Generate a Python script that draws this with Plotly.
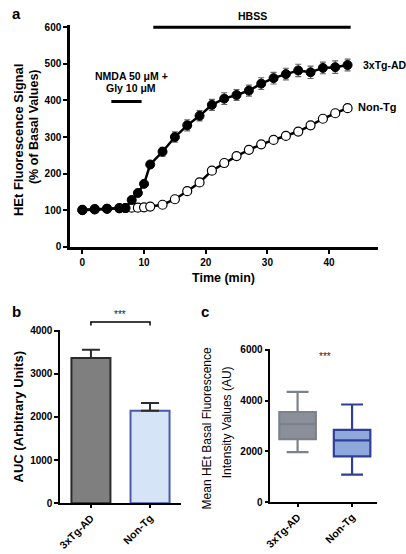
import plotly.graph_objects as go

# ---------------- data ----------------
time_min = [0, 2, 4, 6, 7, 8, 9, 10, 11, 13, 15, 17, 19, 21, 23, 25, 27, 29, 31, 33, 35, 37, 39, 41, 43]
tg_signal = [100, 102, 104, 105, 106, 128, 147, 172, 225, 260, 300, 332, 358, 388, 405, 415, 427, 446, 461, 472, 482, 477, 489, 491, 497]
tg_err = [2, 2, 2, 2, 2, 3, 4, 5, 6, 12, 14, 15, 14, 15, 16, 15, 15, 16, 16, 16, 17, 17, 16, 17, 16]
ntg_signal = [101, 103, 104, 106, 106, 107, 107, 108, 110, 115, 130, 152, 176, 208, 229, 248, 265, 280, 292, 303, 315, 332, 350, 365, 379]
ntg_err = [2, 2, 2, 2, 2, 2, 2, 2, 2, 3, 4, 5, 5, 5, 6, 6, 6, 6, 7, 7, 7, 8, 8, 8, 9]
hbss_period = [11.5, 43.5]
hbss_level = 600
nmda_period = [4.7, 9.6]
nmda_level = 397

groups = ["3xTg-AD", "Non-Tg"]
auc_mean = [3370, 2143]
auc_err = [190, 180]

box_q1 = [2485, 1808]
box_median = [3077, 2435]
box_q3 = [3550, 2846]
box_low = [1973, 1088]
box_high = [4346, 3846]

W, H = 406, 554
FONT = "Liberation Sans, Arial, Helvetica, sans-serif"


def px_x(p):
    return p / W


def px_y(p):
    return 1 - p / H


fig = go.Figure()

# ---------------- panel a ----------------
fig.add_trace(go.Scatter(
    x=time_min, y=ntg_signal, mode="lines+markers",
    line=dict(color="black", width=2.5),
    marker=dict(symbol="circle", size=9, color="white", line=dict(color="black", width=1.2)),
    error_y=dict(type="data", array=ntg_err, color="#666666", thickness=1.2, width=3),
    xaxis="x", yaxis="y", showlegend=False, cliponaxis=False))
fig.add_trace(go.Scatter(
    x=time_min, y=tg_signal, mode="lines+markers",
    line=dict(color="black", width=2.5),
    marker=dict(symbol="circle", size=9, color="black", line=dict(color="black", width=1)),
    error_y=dict(type="data", array=tg_err, color="#666666", thickness=1.2, width=3),
    xaxis="x", yaxis="y", showlegend=False, cliponaxis=False))
# period bars
fig.add_trace(go.Scatter(x=hbss_period, y=[hbss_level, hbss_level], mode="lines",
                         line=dict(color="black", width=3), xaxis="x", yaxis="y",
                         showlegend=False, hoverinfo="skip"))
fig.add_trace(go.Scatter(x=nmda_period, y=[nmda_level, nmda_level], mode="lines",
                         line=dict(color="black", width=3), xaxis="x", yaxis="y",
                         showlegend=False, hoverinfo="skip"))

# ---------------- panel b ----------------
fig.add_trace(go.Bar(
    x=groups, y=auc_mean, width=0.66,
    marker=dict(color=["#7f7f7f", "#d6e4f8"], line=dict(color=["#2b2b2b", "#4a5aa8"], width=2)),
    error_y=dict(type="data", array=auc_err, symmetric=False, arrayminus=[0, 0],
                 color="#2b2b2b", thickness=2, width=9),
    xaxis="x2", yaxis="y2", showlegend=False))

# ---------------- panel c ----------------
box_fill = ["#8a8f99", "#8fa8dc"]
box_line = ["#7c818b", "#2f3f98"]
for i, g in enumerate(groups):
    fig.add_trace(go.Box(
        x=[g], q1=[box_q1[i]], median=[box_median[i]], q3=[box_q3[i]],
        lowerfence=[box_low[i]], upperfence=[box_high[i]],
        fillcolor=box_fill[i], line=dict(color=box_line[i], width=2.2),
        width=0.67, whiskerwidth=0.6,
        xaxis="x3", yaxis="y3", showlegend=False, boxpoints=False))

tickfont = dict(family=FONT, size=10, color="black", weight="bold")
axis_common = dict(showline=True, linecolor="black", showgrid=False, zeroline=False,
                   ticks="outside", tickcolor="black", tickfont=tickfont)
rot_font = dict(family=FONT, size=10.5, color="black", weight="bold")
axis_rot = {k: v for k, v in axis_common.items() if k != "tickfont"}

layout = dict(
    width=W, height=H, margin=dict(l=0, r=0, t=0, b=0),
    paper_bgcolor="white", plot_bgcolor="white",
    font=dict(family=FONT, color="black"),
    xaxis=dict(domain=[px_x(65), px_x(378)], range=[-2, 48], tickvals=[0, 10, 20, 30, 40],
               anchor="y", linewidth=2.5, ticklen=4, tickwidth=2, **axis_common),
    yaxis=dict(domain=[px_y(246.7), px_y(20.5)], range=[0, 606], tickvals=[0, 100, 200, 300, 400, 500, 600],
               anchor="x", linewidth=2.5, ticklen=4, tickwidth=2, **axis_common),
    xaxis2=dict(domain=[px_x(55), px_x(178)], range=[-0.52, 1.53], anchor="y2",
                tickangle=-45, linewidth=1.5, ticklen=3, tickwidth=1.5, tickfont=rot_font, **axis_rot),
    yaxis2=dict(domain=[px_y(508.3), px_y(331.5)], range=[0, 4020], tickvals=[0, 1000, 2000, 3000, 4000],
                anchor="x2", linewidth=1.5, ticklen=4, tickwidth=1.5, **axis_common),
    xaxis3=dict(domain=[px_x(268.3), px_x(376.7)], range=[-0.5, 1.46], anchor="y3",
                tickangle=-45, linewidth=1.5, ticklen=3, tickwidth=1.5, tickfont=rot_font, **axis_rot),
    yaxis3=dict(domain=[px_y(507.3), px_y(350.7)], range=[0, 6040], tickvals=[0, 2000, 4000, 6000],
                anchor="x3", linewidth=1.5, ticklen=4, tickwidth=1.5, **axis_common),
)
fig.update_layout(**layout)

ann = []


def add_text(text, x, y, size, bold=True, angle=0, xanchor="center", yanchor="middle", xref="paper", yref="paper",
             color="black"):
    ann.append(dict(text=text, x=x, y=y, xref=xref, yref=yref, showarrow=False,
                    textangle=angle, xanchor=xanchor, yanchor=yanchor,
                    font=dict(family=FONT, size=size, color=color, weight="bold" if bold else "normal")))


# panel letters
add_text("a", px_x(4), px_y(9), 15, xanchor="left")
add_text("b", px_x(4), px_y(313), 15, xanchor="left")
add_text("c", px_x(196), px_y(313), 15, xanchor="left")

# panel a texts
add_text("HBSS", px_x(250), px_y(11), 10.5)
add_text("NMDA 50 μM +", px_x(127), px_y(72), 10.5)
add_text("Gly 10 μM", px_x(127), px_y(85), 10.5)
add_text("3xTg-AD", 45.2, tg_signal[-1], 10.5, xanchor="left", xref="x", yref="y")
add_text("Non-Tg", 44.4, ntg_signal[-1] + 2, 11, xanchor="left", xref="x", yref="y")
add_text("Time (min)", px_x(221), px_y(279), 12.5)
add_text("HEt Fluorescence Signal", px_x(12), px_y(138), 13, angle=-90)
add_text("(% of Basal Values)", px_x(28), px_y(124), 12.5, angle=-90)

# panel b texts
add_text("AUC (Arbitrary Units)", px_x(13), px_y(420), 13, angle=-90)
add_text("***", px_x(116), px_y(316), 10, bold=False, color="#222222")

# panel c texts
add_text("Mean HEt Basal Fluorescence", px_x(204), px_y(432), 12, bold=False, angle=-90)
add_text("Intensity Values (AU)", px_x(224), px_y(426), 12, bold=False, angle=-90)
add_text("***", 0.5, 5750, 10, bold=False, xref="x3", yref="y3", color="#222222")

fig.update_layout(annotations=ann)

# significance bracket in panel b
fig.add_shape(type="path", xref="x2", yref="paper",
              path=f"M 0,{px_y(327)} L 0,{px_y(323.3)} L 1,{px_y(323.3)} L 1,{px_y(327)}",
              line=dict(color="black", width=1.5))

fig.write_html(
    "out.html",
    config={"displayModeBar": False},
    post_script="document.body.style.margin='0';document.documentElement.style.overflow='hidden';document.body.style.overflow='hidden';",
)
